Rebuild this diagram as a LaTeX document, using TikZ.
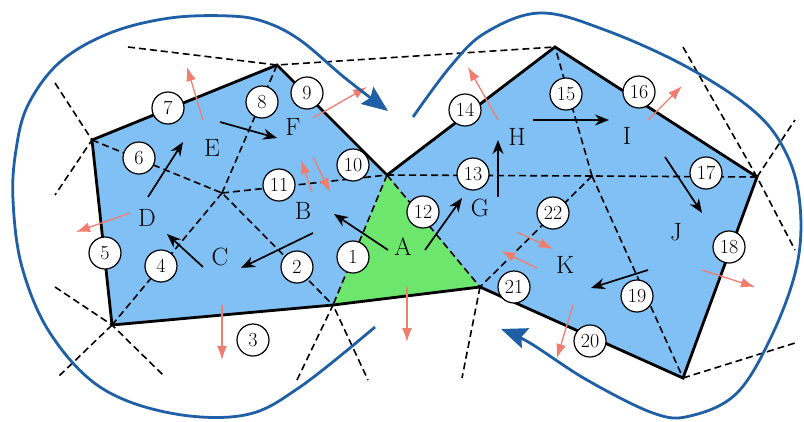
\documentclass[tikz,border=0pt]{standalone}
\usetikzlibrary{arrows.meta}
\definecolor{cellblue}{RGB}{128,192,244}
\definecolor{cellgreen}{RGB}{108,230,108}
\definecolor{swirl}{RGB}{30,95,165}
\definecolor{flux}{RGB}{240,126,110}
\begin{document}
\begin{tikzpicture}[x=1pt,y=-1pt,
  edge/.style={line width=2.8pt, line join=miter},
  dual/.style={line width=1.6pt, dash pattern=on 7pt off 4pt},
  num/.style={circle, draw, fill=white, line width=1.2pt, minimum size=32pt, inner sep=0pt, font=\fontsize{20}{20}\selectfont},
  lab/.style={inner sep=0pt, font=\fontsize{25}{25}\selectfont},
  blk/.style={-{Stealth[length=14pt,width=11pt]}, line width=1.7pt},
  fluxarrow/.style={-{Latex[length=14pt,width=10pt]}, line width=1.3pt, draw=flux, fill=flux},
  swirlline/.style={line width=2.8pt, draw=swirl, -{Stealth[length=26pt,width=21pt,inset=4pt]}}
]
\useasboundingbox (0,0) rectangle (804,421);

% mesh vertices
\coordinate (v1) at (112,325);
\coordinate (v2) at (92,140);
\coordinate (v3) at (277,65);
\coordinate (v4) at (387,175);
\coordinate (v5) at (555,47);
\coordinate (v6) at (757,177);
\coordinate (v7) at (683,378);
\coordinate (v8) at (480,287);
\coordinate (v9) at (333,305);
\coordinate (x1) at (222,193);
\coordinate (x2) at (592,176);
% outer dual ends
\coordinate (o1) at (55,83);
\coordinate (o2) at (55,195);
\coordinate (o3) at (128,47);
\coordinate (o4) at (55,287);
\coordinate (o5) at (163,375);
\coordinate (o6) at (58,377);
\coordinate (o7) at (297,380);
\coordinate (o8) at (368,380);
\coordinate (o9) at (462,378);
\coordinate (o10) at (795,343);
\coordinate (o11) at (683,47);
\coordinate (o12) at (795,250);
\coordinate (o13) at (795,120);

% cells
\fill[cellblue] (v1)--(v2)--(v3)--(v4)--(v5)--(v6)--(v7)--(v8)--(v9)--cycle;
\fill[cellgreen] (v4)--(v9)--(v8)--cycle;

% dual (dashed) lines
\draw[dual] (v2)--(x1)--(v9);
\draw[dual] (x1)--(v3);
\draw[dual] (x1)--(v4);
\draw[dual] (x1)--(v1);
\draw[dual] (v4)--(x2)--(v6);
\draw[dual] (x2)--(v5);
\draw[dual] (x2)--(v7);
\draw[dual] (x2)--(v8);
\draw[dual] (v4)--(v9);
\draw[dual] (v4)--(v8);
\draw[dual] (o1)--(v2)--(o2);
\draw[dual] (o3)--(v3)--(v5);
\draw[dual] (o4)--(v1)--(o5);
\draw[dual] (v1)--(o6);
\draw[dual] (o7)--(v9)--(o8);
\draw[dual] (v8)--(o9);
\draw[dual] (v7)--(o10);
\draw[dual] (o11)--(v6)--(o12);
\draw[dual] (v6)--(o13);

% boundary
\draw[edge] (v1)--(v2)--(v3)--(v4)--(v5)--(v6)--(v7)--(v8)--(v9)--cycle;

% black arrows
\coordinate (a1s) at (148,197); \coordinate (a1e) at (183,142);
\coordinate (a2s) at (203,267); \coordinate (a2e) at (167,234);
\coordinate (a3s) at (313,233); \coordinate (a3e) at (241,268);
\coordinate (a4s) at (220,122); \coordinate (a4e) at (277,138);
\coordinate (a5s) at (388,250); \coordinate (a5e) at (334,214);
\coordinate (a6s) at (425,250); \coordinate (a6e) at (462,198);
\coordinate (a7s) at (498,197); \coordinate (a7e) at (498,140);
\coordinate (a8s) at (533,120); \coordinate (a8e) at (609,120);
\coordinate (a9s) at (665,157); \coordinate (a9e) at (702,213);
\coordinate (a10s) at (648,270); \coordinate (a10e) at (591,288);
\draw[blk] (a1s)--(a1e);
\draw[blk] (a2s)--(a2e);
\draw[blk] (a3s)--(a3e);
\draw[blk] (a4s)--(a4e);
\draw[blk] (a5s)--(a5e);
\draw[blk] (a6s)--(a6e);
\draw[blk] (a7s)--(a7e);
\draw[blk] (a8s)--(a8e);
\draw[blk] (a9s)--(a9e);
\draw[blk] (a10s)--(a10e);

% flux arrows
\coordinate (f1s) at (203,120); \coordinate (f1e) at (187,67);
\coordinate (f2s) at (313,118); \coordinate (f2e) at (367,87);
\coordinate (f3s) at (312,192); \coordinate (f3e) at (301,160);
\coordinate (f4s) at (313,157); \coordinate (f4e) at (330,192);
\coordinate (f5s) at (130,213); \coordinate (f5e) at (76,232);
\coordinate (f6s) at (222,305); \coordinate (f6e) at (222,360);
\coordinate (f7s) at (407,287); \coordinate (f7e) at (407,342);
\coordinate (f8s) at (498,120); \coordinate (f8e) at (468,67);
\coordinate (f9s) at (648,120); \coordinate (f9e) at (682,86);
\coordinate (f10s) at (702,270); \coordinate (f10e) at (755,287);
\coordinate (f11s) at (573,305); \coordinate (f11e) at (557,358);
\coordinate (f12s) at (517,232); \coordinate (f12e) at (553,249);
\coordinate (f13s) at (537,268); \coordinate (f13e) at (501,251);
\foreach \k in {1,...,13}{\draw[fluxarrow] (f\k s)--(f\k e);}

% numbered circles
\node[num] (n1) at (353,257) {1};
\node[num] (n2) at (297,267) {2};
\node[num] (n3) at (253,340) {3};
\node[num] (n4) at (161,266) {4};
\node[num] (n5) at (105,253) {5};
\node[num] (n6) at (139,158) {6};
\node[num] (n7) at (168,108) {7};
\node[num] (n8) at (262,102) {8};
\node[num] (n9) at (307,93) {9};
\node[num] (n10) at (353,165) {10};
\node[num] (n11) at (279,185) {11};
\node[num] (n12) at (423,212) {12};
\node[num] (n13) at (473,174) {13};
\node[num] (n14) at (465,110) {14};
\node[num] (n15) at (566,94) {15};
\node[num] (n16) at (639,92) {16};
\node[num] (n17) at (706,173) {17};
\node[num] (n18) at (729,247) {18};
\node[num] (n19) at (637,296) {19};
\node[num] (n20) at (590,341) {20};
\node[num] (n21) at (514,287) {21};
\node[num] (n22) at (553,213) {22};

% cell labels
\node[lab] (A) at (403,247) {A};
\node[lab] (B) at (303,211) {B};
\node[lab] (C) at (220,257) {C};
\node[lab] (D) at (147,218) {D};
\node[lab] (E) at (212,148) {E};
\node[lab] (F) at (293,127) {F};
\node[lab] (G) at (480,208) {G};
\node[lab] (H) at (517,137) {H};
\node[lab] (I) at (627,136) {I};
\node[lab] (J) at (676,232) {J};
\node[lab] (K) at (565,265) {K};

% swirl curves
\draw[swirlline] plot[smooth, tension=0.6] coordinates {(375,327) (300,387) (245,415) (170,413) (100,387) (50,333) (22,267) (13,200) (16,150) (28,105) (60,62) (110,33) (170,18) (230,16) (265,22) (300,40) (345,78) (388,111)};
\draw[swirlline] plot[smooth, tension=0.6] coordinates {(413,117) (450,67) (485,33) (540,13) (605,30) (687,67) (755,112) (787,155) (800,205) (797,265) (773,333) (737,393) (690,416) (653,413) (587,380) (530,343) (501,329)};
\end{tikzpicture}
\end{document}
